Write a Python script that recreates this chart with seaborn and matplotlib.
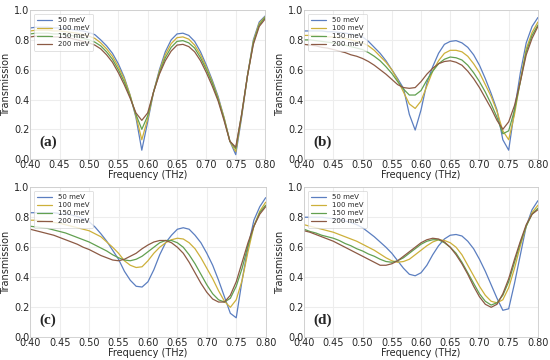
import matplotlib
matplotlib.use("Agg")
import matplotlib.pyplot as plt
import seaborn as sns
import pandas as pd

freq = [0.40, 0.41, 0.42, 0.43, 0.44, 0.45, 0.46, 0.47, 0.48, 0.49,
        0.50, 0.51, 0.52, 0.53, 0.54, 0.55, 0.56, 0.57, 0.58, 0.59,
        0.60, 0.61, 0.62, 0.63, 0.64, 0.65, 0.66, 0.67, 0.68, 0.69,
        0.70, 0.71, 0.72, 0.73, 0.74, 0.75, 0.76, 0.77, 0.78, 0.79, 0.80]
labels = ["50 meV", "100 meV", "150 meV", "200 meV"]
panel_names = ["(a)", "(b)", "(c)", "(d)"]

# panel (a)
a_50 = [.88, .885, .885, .885, .88, .88, .875, .87, .865, .86, .85, .835, .80, .76, .71, .64, .55, .43, .28, .06,
        .25, .45, .60, .72, .80, .84, .845, .83, .79, .72, .63, .53, .42, .28, .12, .03, .28, .56, .80, .92, .96]
a_100 = [.86, .865, .865, .865, .86, .86, .855, .85, .845, .835, .825, .81, .78, .74, .69, .62, .54, .43, .29, .13,
         .27, .45, .59, .70, .775, .815, .82, .805, .765, .70, .615, .52, .41, .28, .12, .05, .29, .56, .79, .91, .955]
a_150 = [.84, .845, .845, .845, .84, .84, .835, .83, .82, .81, .80, .785, .76, .72, .67, .60, .52, .42, .30, .20,
         .29, .45, .58, .68, .75, .79, .795, .78, .745, .68, .60, .51, .40, .27, .12, .07, .30, .56, .78, .90, .95]
a_200 = [.82, .825, .825, .825, .82, .82, .815, .81, .80, .79, .78, .765, .74, .70, .65, .58, .50, .41, .31, .26,
         .31, .45, .57, .66, .725, .765, .77, .755, .72, .66, .58, .49, .39, .26, .12, .08, .30, .56, .77, .89, .94]

# panel (b)
b_50 = [.86, .86, .86, .86, .855, .855, .85, .845, .84, .83, .82, .79, .75, .71, .66, .60, .54, .475, .30, .195,
        .33, .51, .62, .71, .77, .79, .795, .78, .75, .70, .63, .54, .44, .33, .13, .06, .33, .58, .78, .89, .95]
b_100 = [.83, .83, .83, .825, .82, .82, .815, .81, .80, .79, .78, .76, .73, .69, .65, .60, .53, .45, .37, .34,
         .39, .49, .59, .66, .71, .73, .73, .72, .69, .64, .58, .50, .42, .32, .19, .13, .30, .53, .74, .85, .92]
b_150 = [.80, .80, .795, .79, .785, .78, .77, .765, .755, .745, .735, .715, .69, .66, .62, .575, .52, .47, .43, .43,
         .46, .53, .59, .64, .67, .685, .68, .665, .63, .58, .52, .45, .37, .28, .17, .19, .33, .52, .72, .83, .90]
b_200 = [.77, .765, .76, .75, .745, .735, .725, .715, .70, .69, .675, .655, .63, .60, .57, .535, .50, .48, .475, .48,
         .52, .57, .61, .64, .655, .66, .65, .63, .59, .54, .48, .41, .34, .26, .20, .25, .36, .52, .70, .81, .89]

# panel (c)
c_50 = [.83, .83, .83, .83, .83, .825, .82, .815, .805, .79, .77, .735, .69, .64, .58, .52, .44, .38, .34, .335,
        .37, .45, .55, .63, .68, .72, .73, .72, .68, .63, .56, .48, .38, .27, .16, .13, .38, .60, .78, .87, .93]
c_100 = [.78, .78, .775, .77, .765, .76, .75, .74, .73, .72, .71, .69, .67, .635, .60, .56, .51, .48, .465, .47,
         .51, .56, .60, .63, .65, .66, .655, .63, .59, .53, .46, .39, .31, .24, .20, .25, .38, .57, .74, .84, .90]
c_150 = [.74, .735, .73, .725, .715, .705, .695, .68, .665, .65, .635, .615, .595, .575, .55, .53, .515, .51, .52, .54,
         .57, .60, .63, .645, .645, .63, .60, .55, .49, .42, .35, .29, .25, .235, .26, .34, .46, .61, .74, .83, .88]
c_200 = [.72, .71, .70, .69, .68, .665, .65, .635, .62, .60, .585, .565, .545, .53, .515, .51, .52, .54, .56, .59,
         .615, .635, .645, .645, .63, .60, .56, .50, .43, .36, .30, .255, .235, .235, .28, .37, .50, .63, .74, .82, .87]

# panel (d)
d_50 = [.80, .80, .80, .80, .795, .79, .785, .775, .765, .75, .73, .70, .67, .635, .60, .56, .51, .46, .42, .41,
        .43, .48, .55, .61, .655, .68, .685, .675, .64, .59, .52, .44, .35, .26, .18, .19, .36, .55, .74, .85, .91]
d_100 = [.75, .74, .73, .72, .71, .70, .685, .67, .655, .64, .62, .60, .58, .555, .53, .51, .50, .505, .52, .55,
         .58, .61, .635, .65, .645, .63, .60, .55, .48, .41, .34, .28, .24, .23, .25, .33, .46, .61, .74, .83, .88]
d_150 = [.72, .705, .695, .68, .67, .66, .645, .625, .61, .59, .575, .555, .54, .52, .505, .50, .51, .53, .56, .59,
         .62, .64, .65, .65, .63, .60, .56, .50, .43, .36, .29, .24, .215, .23, .28, .37, .50, .63, .74, .82, .86]
d_200 = [.71, .70, .685, .67, .655, .64, .62, .60, .58, .56, .54, .52, .50, .48, .48, .49, .51, .54, .57, .60,
         .63, .65, .66, .655, .635, .60, .55, .49, .42, .34, .27, .22, .20, .22, .29, .39, .52, .64, .75, .82, .85]

panels = [[a_50, a_100, a_150, a_200],
          [b_50, b_100, b_150, b_200],
          [c_50, c_100, c_150, c_200],
          [d_50, d_100, d_150, d_200]]

colors = ["#5B7EC0", "#CDB03A", "#62A050", "#8C5A44"]

sns.set_style("whitegrid", {"grid.color": "#EDEDED", "axes.edgecolor": "#CCCCCC"})
plt.rcParams["font.family"] = ["DejaVu Sans"]

fig = plt.figure(figsize=(5.5, 3.6), dpi=100)
boxes = [(0.055, 0.558, 0.427, 0.414), (0.553, 0.558, 0.425, 0.414),
         (0.055, 0.063, 0.428, 0.417), (0.553, 0.063, 0.425, 0.417)]

for box, curves, name in zip(boxes, panels, panel_names):
    ax = fig.add_axes(box)
    rows = []
    for lab, vals in zip(labels, curves):
        for f, v in zip(freq, vals):
            rows.append({"freq": f, "T": v, "gate": lab})
    df = pd.DataFrame(rows)
    sns.lineplot(data=df, x="freq", y="T", hue="gate", palette=colors,
                 linewidth=0.9, ax=ax)
    ax.set_xlim(0.40, 0.80)
    ax.set_ylim(0.0, 1.0)
    ax.set_xticks([0.40, 0.45, 0.50, 0.55, 0.60, 0.65, 0.70, 0.75, 0.80])
    ax.set_yticks([0.0, 0.2, 0.4, 0.6, 0.8, 1.0])
    ax.xaxis.set_major_formatter(matplotlib.ticker.FormatStrFormatter("%.2f"))
    ax.yaxis.set_major_formatter(matplotlib.ticker.FormatStrFormatter("%.1f"))
    ax.tick_params(labelsize=7, pad=0.5, length=0)
    ax.set_xlabel("Frequency (THz)", fontsize=7, labelpad=0)
    ax.set_ylabel("Transmission", fontsize=7, labelpad=2)
    for s in ax.spines.values():
        s.set_linewidth(0.6)
    leg = ax.legend(loc="upper left", fontsize=5, frameon=True, handlelength=2.2,
                    borderpad=0.5, labelspacing=0.3, framealpha=0.8)
    leg.get_frame().set_linewidth(0.5)
    ax.text(0.415, 0.115, name, fontsize=11, fontweight="bold",
            family="Liberation Serif", va="center", ha="left")

fig.savefig("out.png", dpi=100)
